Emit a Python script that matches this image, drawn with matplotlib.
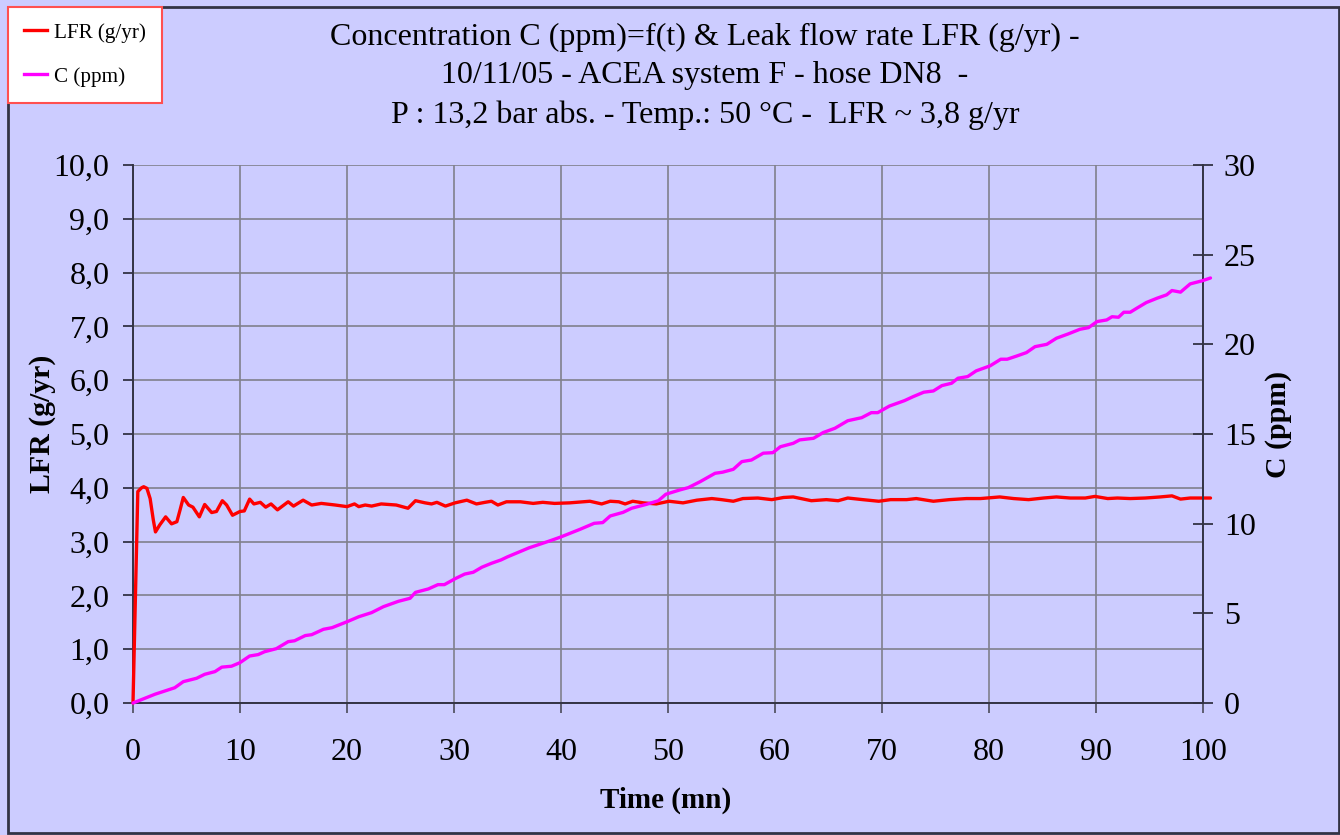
import matplotlib
matplotlib.use("Agg")
import matplotlib.pyplot as plt
from matplotlib.lines import Line2D
from matplotlib.patches import Rectangle
from matplotlib.ticker import FuncFormatter, MultipleLocator

plt.rcParams['font.family'] = ['Liberation Serif', 'DejaVu Serif']

# Leak flow rate LFR (g/yr) vs time (mn)
t_lfr = [0, 0.45, 0.8, 1.0, 1.3, 1.6, 1.9, 2.1, 2.5, 3.05, 3.6, 4.1, 4.4, 4.7, 5.2, 5.6,
         6.2, 6.7, 7.35, 7.8, 8.35, 8.75, 9.3, 10.0, 10.4, 10.9, 11.3, 11.9, 12.4, 12.9,
         13.5, 14.5, 15.0, 15.9, 16.7, 17.6, 18.9, 20.0, 20.7, 21.1, 21.7, 22.3, 23.2,
         24.6, 25.7, 26.4, 27.3, 27.9, 28.4, 29.2, 30.1, 31.2, 32.1, 32.9, 33.5, 34.1,
         34.9, 36.2, 37.4, 38.3, 39.4, 40.8, 42.7, 43.8, 44.6, 45.4, 46.0, 46.7, 47.7,
         48.9, 50.1, 51.4, 52.7, 54.1, 55.0, 56.1, 57.0, 58.4, 59.7, 60.8, 61.7, 63.4,
         64.8, 65.9, 66.8, 68.2, 69.7, 70.8, 72.3, 73.2, 74.8, 76.3, 77.9, 79.2, 81.0,
         82.3, 83.7, 85.1, 86.3, 87.6, 89.0, 89.9, 91.1, 92.0, 93.2, 94.6, 96.0, 97.1,
         97.9, 98.8, 100.7]
lfr = [0, 3.93, 4.0, 4.02, 3.99, 3.8, 3.4, 3.18, 3.31, 3.46, 3.33, 3.37, 3.59, 3.82, 3.68, 3.64,
       3.46, 3.69, 3.54, 3.56, 3.76, 3.68, 3.49, 3.56, 3.57, 3.79, 3.7, 3.73, 3.64, 3.7,
       3.59, 3.74, 3.66, 3.77, 3.68, 3.71, 3.68, 3.65, 3.7, 3.65, 3.68, 3.66, 3.7,
       3.68, 3.62, 3.76, 3.72, 3.7, 3.73, 3.66, 3.72, 3.77, 3.7, 3.73, 3.75, 3.68,
       3.74, 3.74, 3.71, 3.73, 3.71, 3.72, 3.75, 3.7, 3.75, 3.74, 3.7, 3.75, 3.72,
       3.7, 3.75, 3.72, 3.77, 3.8, 3.78, 3.75, 3.8, 3.81, 3.78, 3.82, 3.83, 3.76,
       3.78, 3.76, 3.81, 3.78, 3.75, 3.78, 3.78, 3.8, 3.75, 3.78, 3.8, 3.8, 3.83,
       3.8, 3.78, 3.81, 3.83, 3.81, 3.81, 3.84, 3.8, 3.81, 3.8, 3.81, 3.83, 3.85,
       3.79, 3.81, 3.81]

# Concentration C (ppm) vs time (mn)
t_c = [0, 2.06, 3.9, 4.7, 5.95, 6.7, 7.66, 8.3, 9.2, 10.0, 10.9, 11.7, 12.3, 13.4, 14.5,
       15.1, 16.1, 16.7, 17.8, 18.6, 20.0, 21.1, 22.3, 23.4, 24.8, 25.9, 26.4, 27.6, 28.5,
       29.1, 30.1, 31.0, 31.8, 32.6, 33.5, 34.4, 35.0, 36.0, 37.0, 38.0, 39.0, 39.9, 41.8,
       43.1, 43.9, 44.6, 45.8, 46.6, 48.0, 49.1, 49.8, 51.1, 51.9, 53.0, 54.4, 55.1, 56.1,
       56.9, 57.8, 58.9, 59.8, 60.5, 61.7, 62.3, 63.6, 64.5, 65.6, 66.8, 68.1, 69.0, 69.6,
       70.7, 72.1, 72.9, 73.9, 74.8, 75.6, 76.5, 77.1, 78.0, 78.8, 80.1, 81.1, 81.7, 82.6,
       83.5, 84.3, 85.4, 86.3, 87.4, 88.5, 89.3, 90.1, 91.0, 91.5, 92.1, 92.6, 93.2, 93.8,
       94.7, 95.7, 96.6, 97.1, 97.9, 98.8, 99.9, 100.7]
conc = [0, 0.49, 0.85, 1.19, 1.38, 1.6, 1.75, 2.0, 2.05, 2.25, 2.62, 2.7, 2.86, 3.03, 3.42,
        3.47, 3.76, 3.81, 4.11, 4.2, 4.53, 4.81, 5.04, 5.37, 5.67, 5.84, 6.17, 6.36, 6.6,
        6.6, 6.93, 7.19, 7.29, 7.57, 7.79, 7.98, 8.15, 8.4, 8.65, 8.85, 9.05, 9.24, 9.69,
        10.02, 10.06, 10.43, 10.63, 10.86, 11.08, 11.28, 11.64, 11.88, 12.01, 12.34, 12.81, 12.87, 13.03,
        13.46, 13.55, 13.93, 13.96, 14.29, 14.48, 14.67, 14.76, 15.08, 15.32, 15.74, 15.91, 16.19, 16.19,
        16.56, 16.86, 17.08, 17.33, 17.4, 17.7, 17.83, 18.11, 18.2, 18.52, 18.8, 19.17, 19.17, 19.35,
        19.54, 19.87, 20.0, 20.34, 20.58, 20.84, 20.93, 21.27, 21.36, 21.54, 21.51, 21.79, 21.79, 22.01,
        22.33, 22.57, 22.76, 23.0, 22.91, 23.37, 23.54, 23.7]

title_lines = ["Concentration C (ppm)=f(t) & Leak flow rate LFR (g/yr) -",
               "10/11/05 - ACEA system F - hose DN8  -",
               "P : 13,2 bar abs. - Temp.: 50 \u00b0C -  LFR ~ 3,8 g/yr"]

bg = '#CCCCFF'
W, H = 1340, 835
fig = plt.figure(figsize=(13.4, 8.35), dpi=100, facecolor=bg)

ax = fig.add_axes([133 / W, 1 - 703 / H, 1070 / W, 538 / H])
ax.set_facecolor(bg)
ax2 = ax.twinx()

ax.plot(t_lfr, lfr, color='#FF0000', lw=2.4, clip_on=False, zorder=3,
        solid_joinstyle='round', solid_capstyle='round')
ax2.plot(t_c, conc, color='#FF00FF', lw=2.4, clip_on=False, zorder=3,
         solid_joinstyle='round', solid_capstyle='round')

ax.set_xlim(0, 100)
ax.set_ylim(0, 10)
ax2.set_ylim(0, 30)
ax.xaxis.set_major_locator(MultipleLocator(10))
ax.yaxis.set_major_locator(MultipleLocator(1))
ax2.yaxis.set_major_locator(MultipleLocator(5))
ax.yaxis.set_major_formatter(FuncFormatter(lambda v, p: f"{v:.1f}".replace('.', ',')))

ax.grid(True, color='#80808c', lw=1.2)
ax.set_axisbelow(True)

for s in ['top', 'right']:
    ax.spines[s].set_visible(False)
for s in ['top', 'left', 'bottom']:
    ax2.spines[s].set_visible(False)
for s in [ax.spines['left'], ax.spines['bottom'], ax2.spines['right']]:
    s.set_color('#333344')
    s.set_linewidth(1.4)

ax.tick_params(axis='y', direction='out', length=7, width=1.3, pad=10,
               labelsize=23, color='#333344')
ax.tick_params(axis='x', direction='out', length=7, width=1.3, pad=18,
               labelsize=23, color='#555566')
ax2.tick_params(axis='y', direction='inout', length=14, width=1.3, pad=8,
                labelsize=23, color='#333344')

# axis titles
fig.text(42 / W, 1 - 424 / H, "LFR (g/yr)", rotation=90, ha='center', va='center',
         fontsize=21.5, fontweight='bold')
fig.text(1278 / W, 1 - 424 / H, "C (ppm)", rotation=90, ha='center', va='center',
         fontsize=21.5, fontweight='bold')
fig.text(666 / W, 1 - 800 / H, "Time (mn)", ha='center', va='center',
         fontsize=21, fontweight='bold')

for i, line in enumerate(title_lines):
    fig.text(705 / W, 1 - (37 + 39 * i) / H, line, ha='center', va='center', fontsize=23)

handles = [Line2D([], [], color='#FF0000', lw=2.4), Line2D([], [], color='#FF00FF', lw=2.4)]
leg = fig.legend(handles, ["LFR (g/yr)", "C (ppm)"], loc='upper left',
                 bbox_to_anchor=(8 / W, 1 - 7 / H), borderaxespad=0, fontsize=15.2,
                 fancybox=False, framealpha=1, facecolor='white', edgecolor='#FF5050',
                 handlelength=1.1, handletextpad=0.35, labelspacing=1.15, borderpad=0.75)
leg.get_frame().set_linewidth(1.5)

fig.patches.append(Rectangle((8 / W, 2 / H), 1331 / W, 826 / H, transform=fig.transFigure,
                             fill=False, edgecolor='#333344', lw=2, zorder=0))

fig.savefig("out.png", dpi=100, facecolor=bg)
